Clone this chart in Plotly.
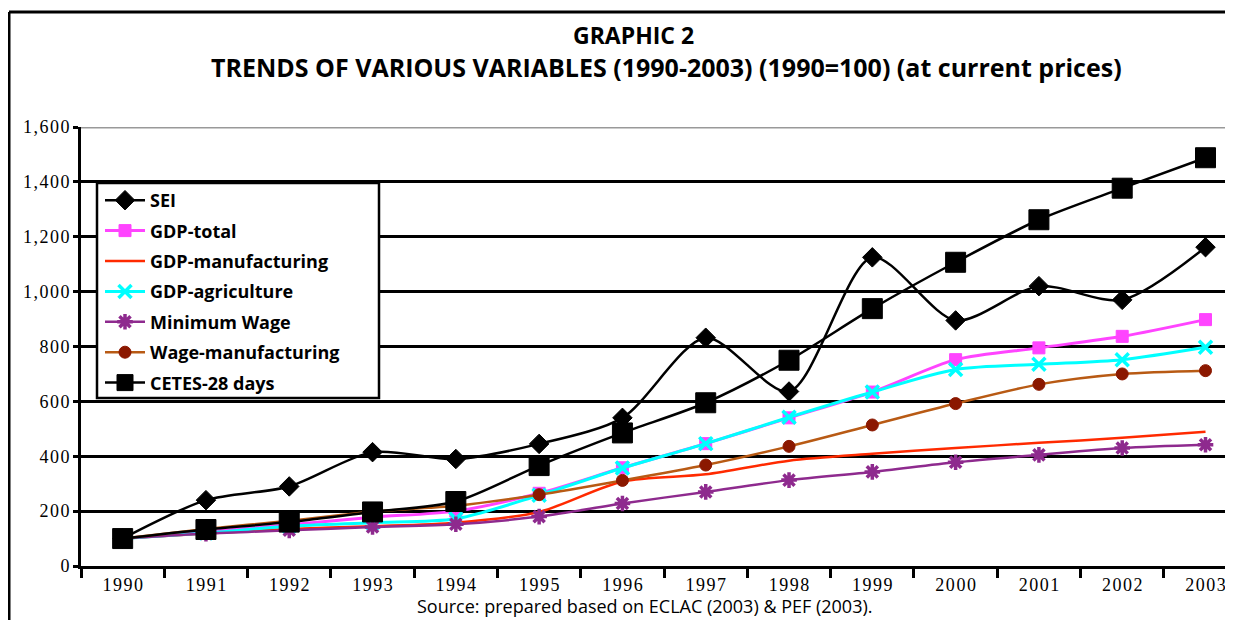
import plotly.graph_objects as go

years = ["1990", "1991", "1992", "1993", "1994", "1995", "1996",
         "1997", "1998", "1999", "2000", "2001", "2002", "2003"]
sei = [100, 240, 290, 415, 390, 445, 540, 832, 636, 1125, 895, 1020, 970, 1162]
gdp_total = [100, 125, 150, 178, 200, 265, 358, 446, 540, 634, 752, 795, 837, 898]
gdp_manuf = [100, 118, 135, 145, 158, 197, 308, 334, 384, 409, 430, 449, 467, 489]
gdp_agri = [100, 120, 145, 158, 172, 258, 357, 446, 542, 634, 716, 735, 752, 797]
min_wage = [100, 118, 130, 142, 152, 180, 228, 270, 313, 343, 378, 405, 430, 442]
wage_manuf = [100, 135, 165, 198, 220, 260, 312, 368, 436, 514, 592, 662, 700, 712]
cetes = [100, 133, 160, 197, 235, 366, 485, 595, 750, 938, 1107, 1262, 1377, 1488]
y_ticks = [0, 200, 400, 600, 800, 1000, 1200, 1400, 1600]

HAIR = "\u200a"

def spaced(s):
    return HAIR.join(list(s))

# page body has an 8px margin: figure is placed at (8, 8)
OFF = 8
W, H = 1233 - OFF, 620 - OFF
L, R, T, B = 73, 0, 119, 54
pw, ph = W - L - R, H - T - B

def rx(x):  # reference pixel x -> paper x
    return (x - OFF - L) / pw

def ry(y):  # reference pixel y -> paper y
    return (H - B - (y - OFF)) / ph

fig = go.Figure()

def add(name, y, color, width, symbol=None, msize=10, mcolor=None, mline=None, mlw=1):
    mode = "lines+markers" if symbol else "lines"
    marker = None
    if symbol:
        marker = dict(symbol=symbol, size=msize, color=mcolor or color,
                      line=dict(color=mline or mcolor or color, width=mlw))
    fig.add_trace(go.Scatter(
        x=years, y=y, name=name, mode=mode,
        line=dict(color=color, width=width, shape="spline", smoothing=0.8),
        marker=marker, legendgroup=name, cliponaxis=False))

add("SEI", sei, "black", 2.5, "diamond", 15, "black")
add("GDP-total", gdp_total, "#FF44FF", 3, "square", 12, "#FF44FF")
add("GDP-manufacturing", gdp_manuf, "#FF2A00", 2.5)
add("GDP-agriculture", gdp_agri, "#00FFFF", 3, "x-thin-open", 13, "#00FFFF", "#00FFFF", 3.5)
add("Minimum Wage", min_wage, "#8E2A8E", 2.5, "asterisk-open", 13, "#8E2A8E", "#8E2A8E", 3.5)
add("Wage-manufacturing", wage_manuf, "#B85A14", 2.5, "circle", 12, "#8B1800", "#8B1800", 1)
add("CETES-28 days", cetes, "black", 2.5, "square", 20, "black")

shapes = [
    dict(type="line", xref="paper", yref="y", x0=0, x1=1, y0=1600, y1=1600,
         line=dict(color="#999999", width=3), layer="above"),
    # legend box
    dict(type="rect", xref="paper", yref="paper", x0=rx(97), x1=rx(379),
         y0=ry(398), y1=ry(183), fillcolor="white",
         line=dict(color="black", width=2.5), layer="above"),
    # outer frame (left and top)
    dict(type="line", xref="paper", yref="paper", x0=rx(9), x1=rx(9),
         y0=ry(625), y1=ry(12), line=dict(color="black", width=3)),
    dict(type="line", xref="paper", yref="paper", x0=rx(9), x1=rx(1233),
         y0=ry(12), y1=ry(12), line=dict(color="black", width=3)),
]

annotations = [
    dict(text="<b>GRAPHIC 2</b>", xref="paper", yref="paper",
         x=rx(633), y=ry(35), xanchor="center", yanchor="middle",
         showarrow=False, font=dict(family="Open Sans", size=23, color="black")),
    dict(text="<b>TRENDS OF VARIOUS VARIABLES (1990-2003) (1990=100) (at current prices)</b>",
         xref="paper", yref="paper", x=rx(666), y=ry(67),
         xanchor="center", yanchor="middle", showarrow=False,
         font=dict(family="Open Sans", size=25, color="black")),
    dict(text="Source: prepared based on ECLAC (2003) &amp; PEF (2003).",
         xref="paper", yref="paper", x=rx(645), y=ry(606),
         xanchor="center", yanchor="middle", showarrow=False,
         font=dict(family="Open Sans", size=18, color="black")),
]

fig.update_layout(
    width=W, height=H,
    margin=dict(l=L, r=R, t=T, b=B),
    paper_bgcolor="white", plot_bgcolor="white",
    showlegend=True,
    legend=dict(x=rx(100), y=ry(182), xanchor="left", yanchor="top",
                borderwidth=0, bgcolor="rgba(0,0,0,0)",
                traceorder="grouped", tracegroupgap=4,
                font=dict(family="Open Sans", size=18, color="black", weight="bold"),
                itemwidth=40),
    shapes=shapes, annotations=annotations,
    xaxis=dict(type="category", range=[-0.5, 13.33], showgrid=False,
               showline=True, linecolor="black", linewidth=3,
               ticks="outside", tickson="boundaries", ticklen=9, tickwidth=2.5,
               tickcolor="black",
               tickvals=years, ticktext=[spaced(y) for y in years],
               tickfont=dict(family="Liberation Serif", size=18, color="black")),
    yaxis=dict(range=[0, 1600], tickvals=y_ticks,
               ticktext=[spaced(f"{v:,}") for v in y_ticks],
               showgrid=True, gridcolor="black", gridwidth=2.5,
               showline=True, linecolor="black", linewidth=3,
               ticks="outside", ticklen=5, tickwidth=2.5, tickcolor="black",
               zeroline=False,
               tickfont=dict(family="Liberation Serif", size=18, color="black")),
)

fig.write_html("out.html", config={"displayModeBar": False})
